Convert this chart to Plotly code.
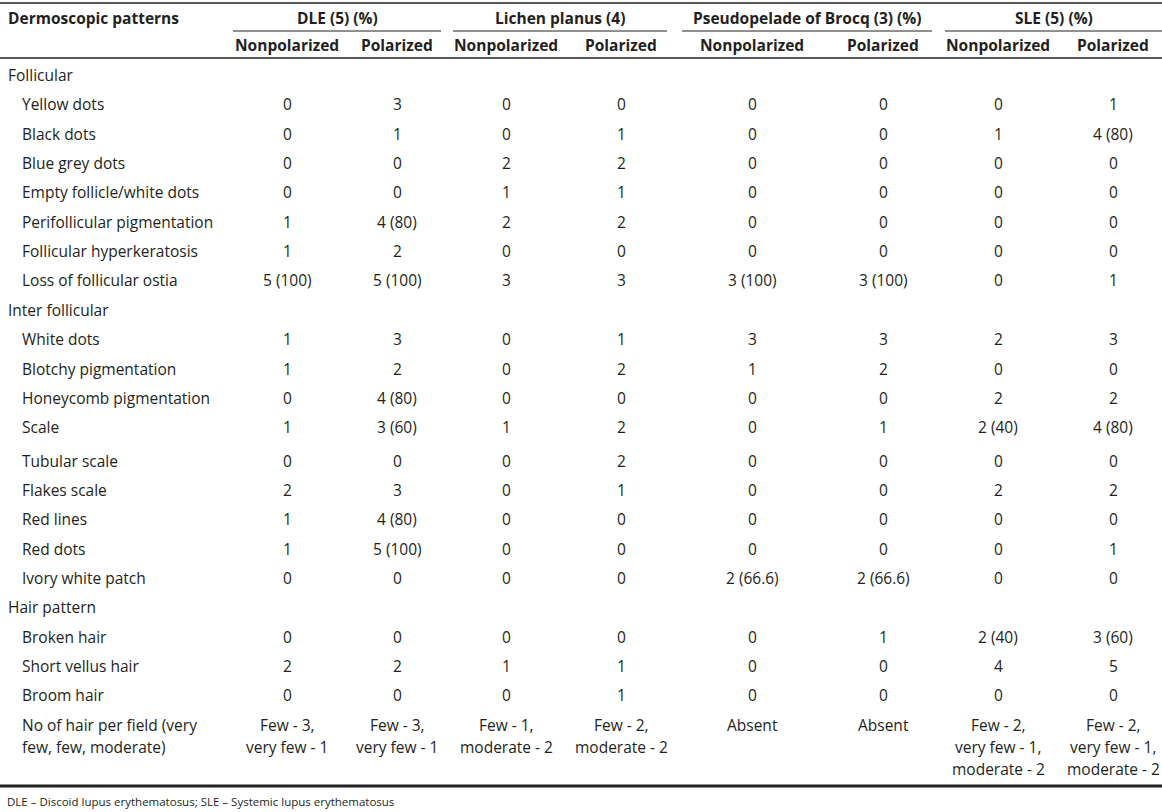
import plotly.graph_objects as go

# ---------------- data ----------------
groups = ["DLE (5) (%)", "Lichen planus (4)", "Pseudopelade of Brocq (3) (%)", "SLE (5) (%)"]
subheaders = ["Nonpolarized", "Polarized"] * 4

patterns = [
    "Follicular",
    "Yellow dots", "Black dots", "Blue grey dots", "Empty follicle/white dots",
    "Perifollicular pigmentation", "Follicular hyperkeratosis", "Loss of follicular ostia",
    "Inter follicular",
    "White dots", "Blotchy pigmentation", "Honeycomb pigmentation", "Scale",
    "Tubular scale", "Flakes scale", "Red lines", "Red dots", "Ivory white patch",
    "Hair pattern",
    "Broken hair", "Short vellus hair", "Broom hair",
    "No of hair per field (very\nfew, few, moderate)",
]
is_section = [p in ("Follicular", "Inter follicular", "Hair pattern") for p in patterns]

dle_nonpol = ["", "0", "0", "0", "0", "1", "1", "5 (100)",
              "", "1", "1", "0", "1", "0", "2", "1", "1", "0",
              "", "0", "2", "0", "Few - 3,\nvery few - 1"]
dle_pol = ["", "3", "1", "0", "0", "4 (80)", "2", "5 (100)",
           "", "3", "2", "4 (80)", "3 (60)", "0", "3", "4 (80)", "5 (100)", "0",
           "", "0", "2", "0", "Few - 3,\nvery few - 1"]
lp_nonpol = ["", "0", "0", "2", "1", "2", "0", "3",
             "", "0", "0", "0", "1", "0", "0", "0", "0", "0",
             "", "0", "1", "0", "Few - 1,\nmoderate - 2"]
lp_pol = ["", "0", "1", "2", "1", "2", "0", "3",
          "", "1", "2", "0", "2", "2", "1", "0", "0", "0",
          "", "0", "1", "1", "Few - 2,\nmoderate - 2"]
pb_nonpol = ["", "0", "0", "0", "0", "0", "0", "3 (100)",
             "", "3", "1", "0", "0", "0", "0", "0", "0", "2 (66.6)",
             "", "0", "0", "0", "Absent"]
pb_pol = ["", "0", "0", "0", "0", "0", "0", "3 (100)",
          "", "3", "2", "0", "1", "0", "0", "0", "0", "2 (66.6)",
          "", "1", "0", "0", "Absent"]
sle_nonpol = ["", "0", "1", "0", "0", "0", "0", "0",
              "", "2", "0", "2", "2 (40)", "0", "2", "0", "0", "0",
              "", "2 (40)", "4", "0", "Few - 2,\nvery few - 1,\nmoderate - 2"]
sle_pol = ["", "1", "4 (80)", "0", "0", "0", "0", "1",
           "", "3", "0", "2", "4 (80)", "0", "2", "0", "1", "0",
           "", "3 (60)", "5", "0", "Few - 2,\nvery few - 1,\nmoderate - 2"]
columns = [dle_nonpol, dle_pol, lp_nonpol, lp_pol, pb_nonpol, pb_pol, sle_nonpol, sle_pol]

footnote = "DLE – Discoid lupus erythematosus; SLE – Systemic lupus erythematosus"

# ---------------- layout geometry ----------------
W, H = 1162, 812
col_x = [287, 397, 506, 621, 752, 883, 998, 1113]
group_span = [(233, 441), (453, 667), (682, 932), (945, 1162)]
first_row_y = 75
row_step = 29.35
extra_after = {"Scale": 4}
line_gap = 22

FONT = "Open Sans"
COLOR = "#231f20"
FS = 15.5

row_y = []
y = first_row_y
for p in patterns:
    row_y.append(y)
    y += row_step + extra_after.get(p, 0)

annotations = []


def add_text(x, y, text, anchor="center", size=FS, bold=False):
    lines = text.split("\n")
    for i, ln in enumerate(lines):
        annotations.append(dict(
            x=x, y=y + i * line_gap, xref="x", yref="y",
            text=f"<b>{ln}</b>" if bold else ln,
            showarrow=False, xanchor=anchor, yanchor="middle",
            font=dict(family=FONT, size=size, color=COLOR),
        ))


# header
add_text(6, 18, "Dermoscopic patterns", anchor="left", bold=True)
for g, (x0, x1) in zip(groups, group_span):
    add_text((x0 + x1) / 2, 18, g, bold=True)
for s, cx in zip(subheaders, col_x):
    add_text(cx, 45, s, bold=True)

# body
for i, p in enumerate(patterns):
    if is_section[i]:
        add_text(6, row_y[i], p, anchor="left")
    else:
        add_text(20, row_y[i], p, anchor="left")
        for cx, col in zip(col_x, columns):
            if col[i]:
                add_text(cx, row_y[i], col[i])

add_text(5, 801, footnote, anchor="left", size=11.5)

shapes = [
    dict(type="line", x0=0, x1=W, y0=3, y1=3, xref="x", yref="y", line=dict(color=COLOR, width=1.6)),
    dict(type="line", x0=0, x1=W, y0=58, y1=58, xref="x", yref="y", line=dict(color=COLOR, width=1.4)),
    dict(type="line", x0=0, x1=W, y0=786, y1=786, xref="x", yref="y", line=dict(color=COLOR, width=3)),
]
for x0, x1 in group_span:
    shapes.append(dict(type="line", x0=x0, x1=x1, y0=31, y1=31, xref="x", yref="y",
                       line=dict(color=COLOR, width=1)))

fig = go.Figure()
fig.add_trace(go.Scatter(x=[0, W], y=[0, H], mode="markers", marker=dict(opacity=0),
                         hoverinfo="skip", showlegend=False))
fig.update_layout(
    width=W, height=H,
    margin=dict(l=0, r=0, t=0, b=0),
    paper_bgcolor="white", plot_bgcolor="white",
    xaxis=dict(range=[0, W], visible=False, fixedrange=True),
    yaxis=dict(range=[H, 0], visible=False, fixedrange=True),
    annotations=annotations,
    shapes=shapes,
    showlegend=False,
)
fig.write_html(
    "out.html",
    config={"displayModeBar": False},
    post_script="document.body.style.margin='0';document.body.style.overflow='hidden';",
)
